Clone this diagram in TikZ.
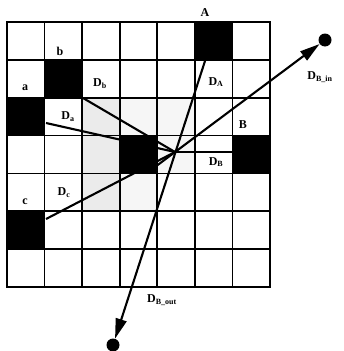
\documentclass[tikz,border=0pt]{standalone}
\usepackage{fontspec}
\setmainfont{Liberation Serif}
\usetikzlibrary{arrows.meta,calc}
\begin{document}
\begin{tikzpicture}[x=1pt,y=-1pt,
  gridline/.style={line width=1.7pt,line cap=rect},
  blackcell/.style={fill=black},
  shadecell/.style={fill=gray!16},
  lightcell/.style={fill=gray!7},
  ray/.style={line width=2.1pt},
  bigtip/.style={-{Triangle[length=20pt,width=11pt]}},
  dot/.style={circle,fill=black,inner sep=0pt,minimum size=13pt},
  lbl/.style={font=\fontsize{12}{13}\selectfont\bfseries,inner sep=0pt}]
\useasboundingbox (0,0) rectangle (343,351);
\def\cw{37.57}\def\ch{37.86}
% shaded cells
\foreach \c/\r in {2/2,2/3,2/4}
  \fill[shadecell] ({7+\c*\cw},{22+\r*\ch}) rectangle ++(\cw,\ch);
\foreach \c/\r in {3/2,4/2,3/4,4/3}
  \fill[lightcell] ({7+\c*\cw},{22+\r*\ch}) rectangle ++(\cw,\ch);
% black cells
\foreach \c/\r in {5/0,1/1,0/2,3/3,6/3,0/5}
  \fill[blackcell] ({7+\c*\cw},{22+\r*\ch}) rectangle ++(\cw,\ch);
% grid
\foreach \i in {0,...,7} {
  \draw[gridline] ({7+\i*\cw},22) -- ({7+\i*\cw},{22+7*\ch});
  \draw[gridline] (7,{22+\i*\ch}) -- ({7+7*\cw},{22+\i*\ch});
}
% points
\coordinate (P) at (175,152);
\coordinate (sA) at (205,61);
\coordinate (sb) at (83,98);
\coordinate (sa) at (46,123);
\coordinate (sc) at (46,219);
\coordinate (sB) at (234,152);
\coordinate (sin) at (155,167);
\node[dot] (din) at (325,40) {};
\node[dot] (dout) at (113,345) {};
% rays
\draw[ray] (sb) -- (P);
\draw[ray] (sa) -- (P);
\draw[ray] (sc) -- (P);
\draw[ray] (sB) -- (P);
\draw[ray,bigtip] (sA) -- (dout);
\draw[ray,bigtip] (sin) -- (din);
% labels
\node[lbl] (lA) at (205,13) {A};
\node[lbl] (lb) at (60,51) {b};
\node[lbl] (la) at (25,88) {a};
\node[lbl] (lDb) at (100,84) {D\textsubscript{b}};
\node[lbl] (lDa) at (68,117) {D\textsubscript{a}};
\node[lbl] (lDA) at (216,82) {D\textsubscript{A}};
\node[lbl] (lB) at (243,125) {B};
\node[lbl] (lDB) at (216,162) {D\textsubscript{B}};
\node[lbl] (lc) at (25,202) {c};
\node[lbl] (lDc) at (64,193) {D\textsubscript{c}};
\node[lbl] (lDin) at (320,77) {D\textsubscript{B\_in}};
\node[lbl] (lDout) at (162,300) {D\textsubscript{B\_out}};
\end{tikzpicture}
\end{document}
